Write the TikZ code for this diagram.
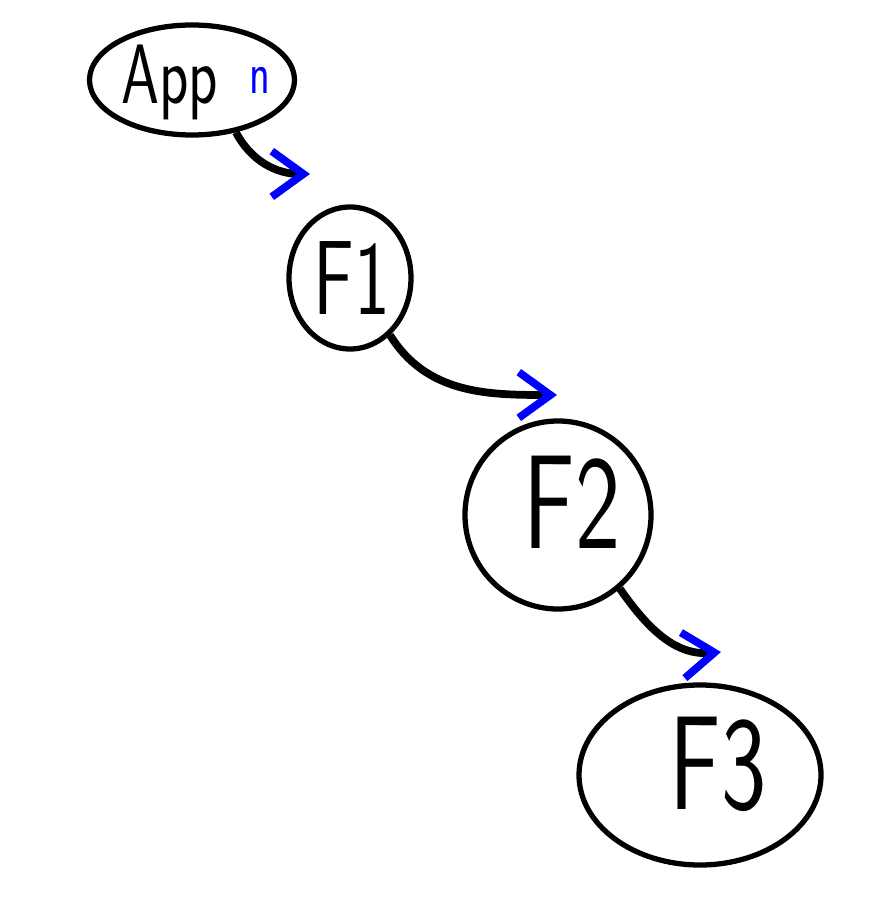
\documentclass[tikz,border=0pt]{standalone}
\usetikzlibrary{positioning,arrows.meta,shapes.geometric}

\begin{document}
\begin{tikzpicture}[->,
    >={Straight Barb[color=blue,length=9pt,width=13pt]},
    line width=2.2pt,
    bubble/.style={ellipse,draw,line width=1.5pt,inner sep=0pt,minimum size=1cm},
    tag/.style={font=\sffamily\fontsize{#1}{#1}\selectfont,xscale=0.72}]
    \useasboundingbox (0,0) rectangle (8.8,-8.98);
    % bubbles
    \node[bubble,minimum width=2.05cm,minimum height=1.1cm] (app) at (1.92,-0.80) {};
    \node[bubble,minimum width=1.22cm,minimum height=1.42cm] (f1) at (3.50,-2.78) {};
    \node[bubble,minimum width=1.86cm,minimum height=1.88cm] (f2) at (5.58,-5.15) {};
    \node[bubble,minimum width=2.42cm,minimum height=1.80cm] (f3) at (7.00,-7.75) {};
    % texts
    \node[tag=24pt] (applabel) at (1.70,-0.82) {App};
    \node[tag=17pt,text=blue] (n) at (2.60,-0.80) {n};
    \node[tag=30pt] (f1label) at (3.52,-2.78) {F1};
    \node[tag=38pt] (f2label) at (5.72,-5.02) {F2};
    \node[tag=38pt] (f3label) at (7.18,-7.64) {F3};
    % arrow ends
    \coordinate (tip1) at (3.10,-1.74);
    \coordinate (tip2) at (5.57,-3.95);
    \coordinate (tip3) at (7.21,-6.52);
    \draw (app.-50) to[out=-62,in=180] (tip1);
    \draw (f1.-55) to[out=-58,in=180] (tip2);
    \draw (f2.-50) to[out=-55,in=185] (tip3);
\end{tikzpicture}
\end{document}
